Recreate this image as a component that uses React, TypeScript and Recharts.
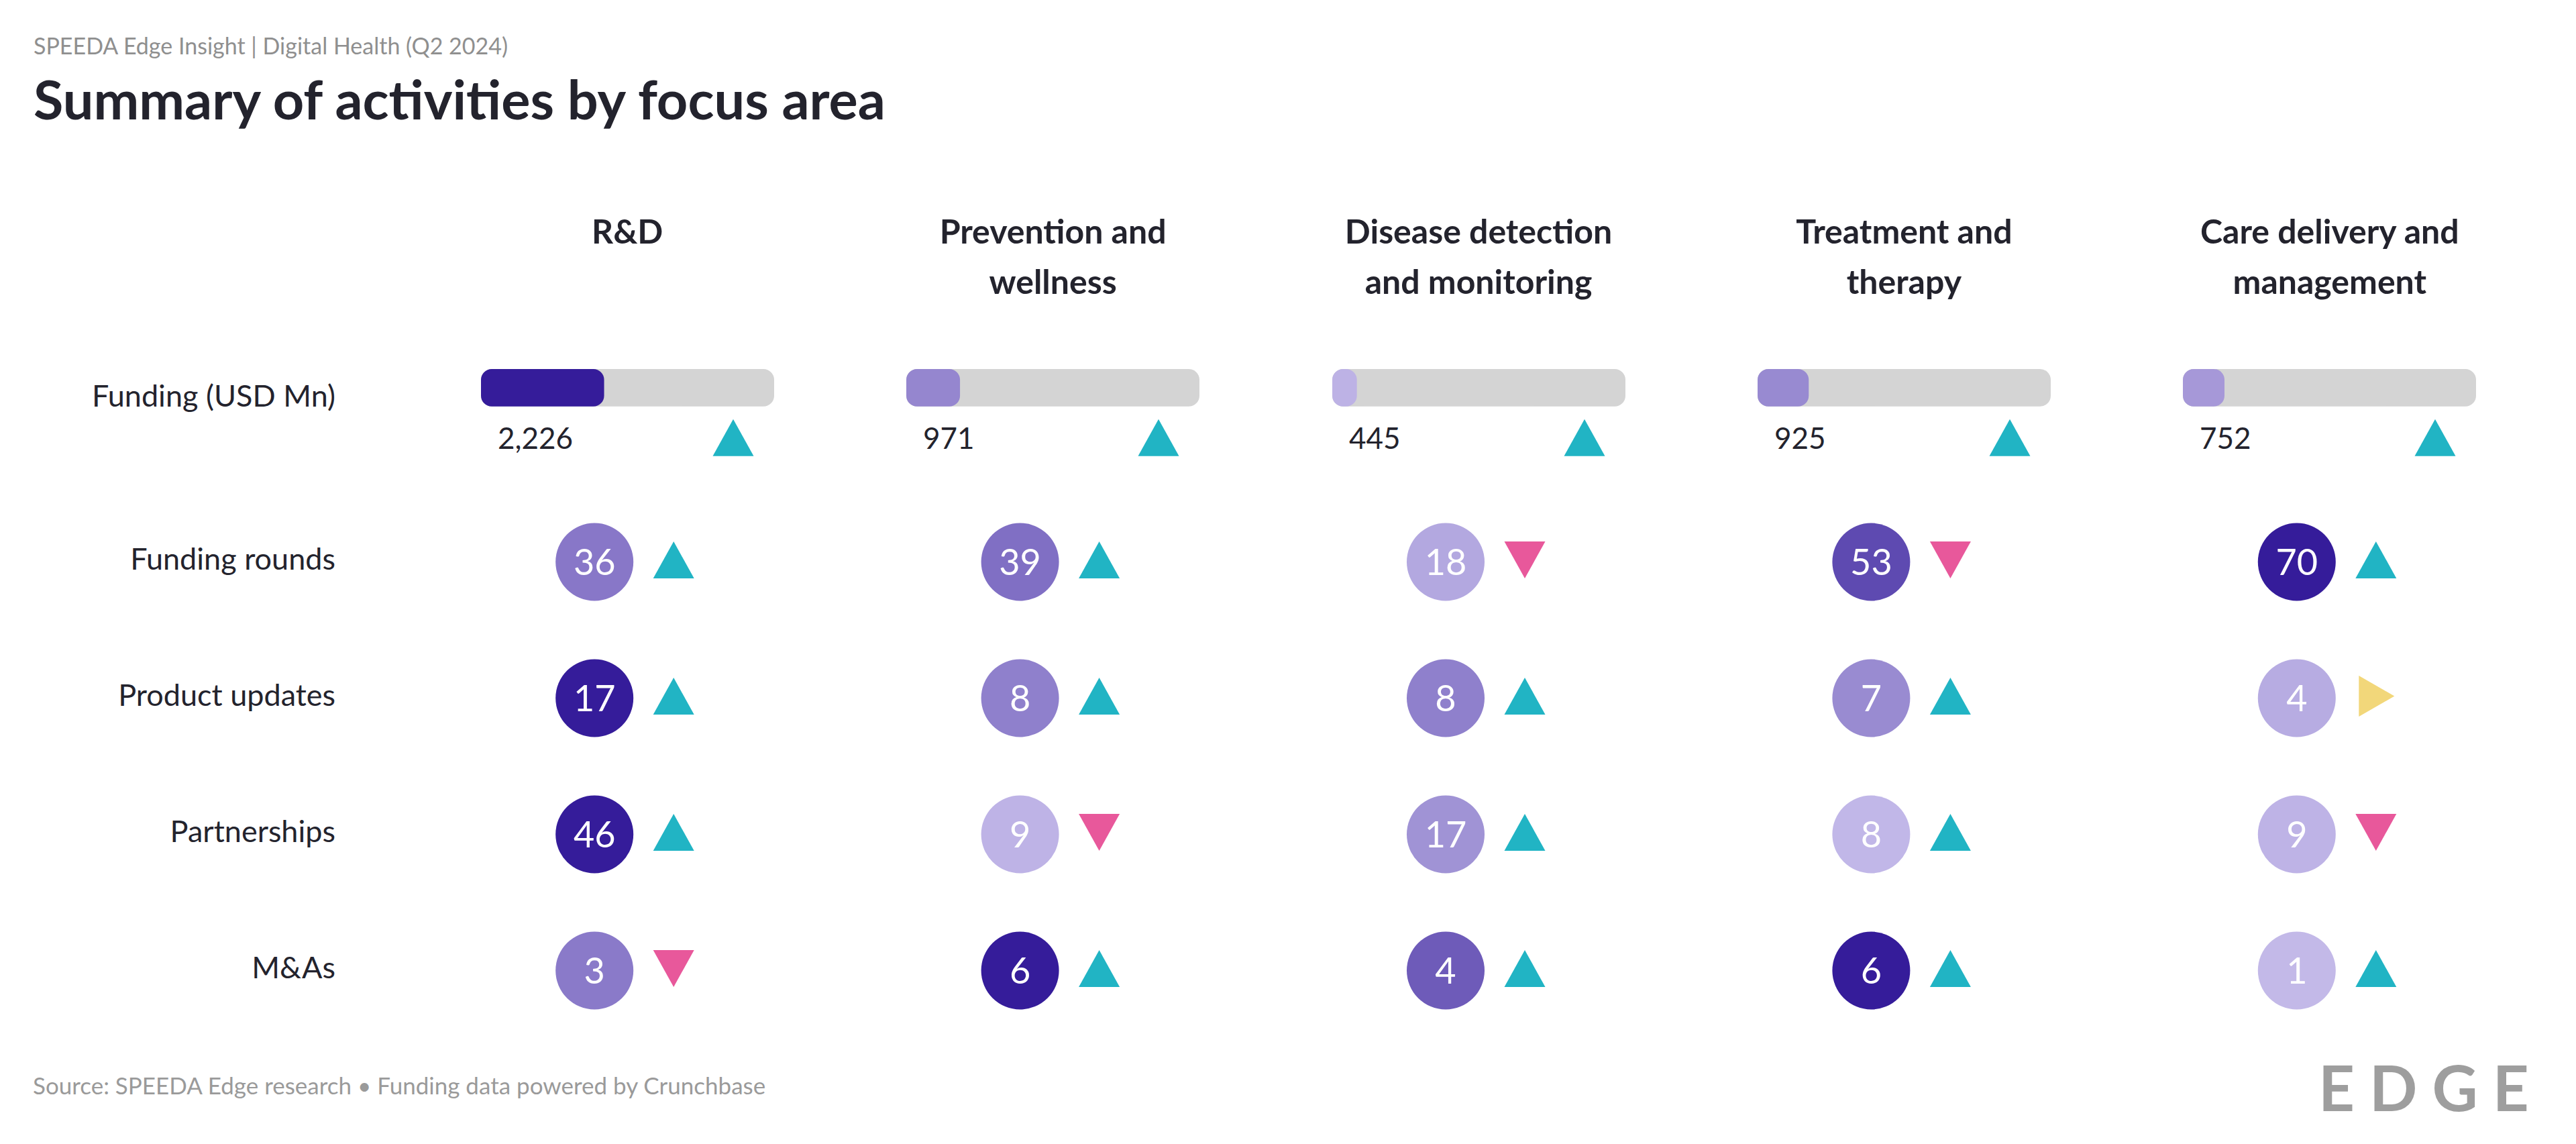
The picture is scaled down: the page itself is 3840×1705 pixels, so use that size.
import React from 'react';
import { ScatterChart, Scatter, XAxis, YAxis, BarChart, Bar, LabelList } from 'recharts';

// ---------- data ----------
const FOCUS_AREAS = ['R&D', 'Prevention and wellness', 'Disease detection and monitoring', 'Treatment and therapy', 'Care delivery and management'];
const HEADER_LINES = [['R&D'], ['Prevention and', 'wellness'], ['Disease detection', 'and monitoring'], ['Treatment and', 'therapy'], ['Care delivery and', 'management']];
const ROW_LABELS = ['Funding rounds', 'Product updates', 'Partnerships', 'M&As'];
const FUNDING_LABEL = 'Funding (USD Mn)';

const FUNDING_USD_MN = [2226, 971, 445, 925, 752];
const FUNDING_TREND = ['up', 'up', 'up', 'up', 'up'];
const FUNDING_AXIS_MAX = 5300;

const FUNDING_ROUNDS = [36, 39, 18, 53, 70];
const FUNDING_ROUNDS_TREND = ['up', 'up', 'down', 'down', 'up'];
const PRODUCT_UPDATES = [17, 8, 8, 7, 4];
const PRODUCT_UPDATES_TREND = ['up', 'up', 'up', 'up', 'flat'];
const PARTNERSHIPS = [46, 9, 17, 8, 9];
const PARTNERSHIPS_TREND = ['up', 'down', 'up', 'up', 'down'];
const MAS = [3, 6, 4, 6, 1];
const MAS_TREND = ['down', 'up', 'up', 'up', 'up'];

const SUBTITLE = 'SPEEDA Edge Insight | Digital Health (Q2 2024)';
const TITLE = 'Summary of activities by focus area';
const SOURCE = 'Source: SPEEDA Edge research \u2022 Funding data powered by Crunchbase';
const LOGO = 'EDGE';

// ---------- styling ----------
const FONT = 'Lato, "Open Sans", sans-serif';
const INK = '#23232d';
const TEAL = '#21b4c4';
const PINK = '#e8589b';
const YELLOW = '#f2d77a';
const LIGHT = [223, 216, 248];
const DARK = [53, 28, 154];

const W = 3840;
const H = 1705;
const PLOT_LEFT = 618;
const PLOT_W = 3172;
const PLOT_TOP = 736;
const PLOT_BOTTOM = 1548;
const HEADER_AXIS_H = 400;
const BAR_W = 437;
const BAR_TOP = 547;

function shade(v: number, max: number) {
  const t = Math.max(0, Math.min(1, v / max));
  const c = LIGHT.map((l, i) => Math.round(l + (DARK[i] - l) * t));
  return `rgb(${c[0]},${c[1]},${c[2]})`;
}

const ROW_VALUES = [FUNDING_ROUNDS, PRODUCT_UPDATES, PARTNERSHIPS, MAS];
const ROW_TRENDS = [FUNDING_ROUNDS_TREND, PRODUCT_UPDATES_TREND, PARTNERSHIPS_TREND, MAS_TREND];

const points = ROW_VALUES.flatMap((vals, r) =>
  vals.map((v, c) => ({
    col: c,
    row: r,
    value: v,
    trend: ROW_TRENDS[r][c],
    rowMax: Math.max(...vals),
  }))
);

const fundingMax = Math.max(...FUNDING_USD_MN);

function Trend({ x, y, dir }: { x: number; y: number; dir: string }) {
  if (dir === 'up') {
    return <polygon points={`${x - 30.5},${y + 27.5} ${x},${y - 27.5} ${x + 30.5},${y + 27.5}`} fill={TEAL} />;
  }
  if (dir === 'down') {
    return <polygon points={`${x - 30.5},${y - 27.5} ${x + 30.5},${y - 27.5} ${x},${y + 27.5}`} fill={PINK} />;
  }
  return <polygon points={`${x - 25.5},${y - 30.5} ${x + 27.5},${y} ${x - 25.5},${y + 30.5}`} fill={YELLOW} />;
}

function Marker(props: any) {
  const { cx, cy, payload } = props;
  if (cx == null || cy == null) return null;
  const ccx = cx - 49;
  return (
    <g>
      <circle cx={ccx} cy={cy} r={58} fill={shade(payload.value, payload.rowMax)} />
      <text x={ccx} y={cy + 19} textAnchor="middle" fontSize={54} fontFamily={FONT} fill="#ffffff">
        {payload.value}
      </text>
      <Trend x={cx + 69} y={cy - 3} dir={payload.trend} />
    </g>
  );
}

function HeaderTick(props: any) {
  const { x, payload } = props;
  const lines = HEADER_LINES[payload.value] || [];
  return (
    <text textAnchor="middle" fontSize={50} fontWeight={700} fontFamily={FONT} fill={INK}>
      {lines.map((l, i) => (
        <tspan key={i} x={x} y={PLOT_TOP - 373 + i * 75}>
          {l}
        </tspan>
      ))}
    </text>
  );
}

function RowTick(props: any) {
  const { x, y, payload } = props;
  return (
    <text x={x} y={y + 11} textAnchor="end" fontSize={45} fontFamily={FONT} fill={INK}>
      {ROW_LABELS[payload.value]}
    </text>
  );
}

function FundingCell({ index }: { index: number }) {
  const data = [{ area: FOCUS_AREAS[index], value: FUNDING_USD_MN[index], trend: FUNDING_TREND[index] }];
  const renderLabel = (p: any) => {
    const { x, y, height, value } = p;
    const bottom = y + height;
    return (
      <g>
        <text x={x + 25} y={bottom + 63} fontSize={44} fontFamily={FONT} fill={INK}>
          {Number(value).toLocaleString('en-US')}
        </text>
        <Trend x={BAR_W - 61} y={bottom + 46.5} dir={data[0].trend} />
      </g>
    );
  };
  const colCenter = PLOT_LEFT + (index + 0.5) * (PLOT_W / FOCUS_AREAS.length);
  return (
    <div style={{ position: 'absolute', left: colCenter - BAR_W / 2, top: BAR_TOP, width: BAR_W, height: 140 }}>
      <BarChart layout="vertical" width={BAR_W} height={140} data={data} margin={{ top: 0, right: 0, bottom: 78, left: 0 }}>
        <XAxis type="number" domain={[0, FUNDING_AXIS_MAX]} hide allowDataOverflow />
        <YAxis type="category" dataKey="area" hide />
        <Bar
          dataKey="value"
          barSize={62}
          radius={16}
          fill={shade(FUNDING_USD_MN[index], fundingMax)}
          background={{ fill: '#d4d4d4', radius: 16 }}
          isAnimationActive={false}
        >
          <LabelList dataKey="value" content={renderLabel} />
        </Bar>
      </BarChart>
    </div>
  );
}

export default function App() {
  return (
    <div style={{ position: 'absolute', left: 0, top: 0, width: W, height: H, background: '#ffffff', overflow: 'hidden' }}>
      <div style={{ position: 'absolute', left: 0, top: 0 }}>
        <ScatterChart
          width={W}
          height={H}
          margin={{ top: PLOT_TOP - HEADER_AXIS_H, right: W - PLOT_LEFT - PLOT_W, bottom: H - PLOT_BOTTOM, left: 0 }}
        >
          <XAxis
            type="number"
            dataKey="col"
            domain={[-0.5, FOCUS_AREAS.length - 0.5]}
            ticks={FOCUS_AREAS.map((_, i) => i)}
            interval={0}
            orientation="top"
            height={HEADER_AXIS_H}
            axisLine={false}
            tickLine={false}
            tickSize={0}
            tickMargin={0}
            tick={(p: any) => <HeaderTick {...p} />}
          />
          <YAxis
            type="number"
            dataKey="row"
            domain={[-0.5, ROW_LABELS.length - 0.5]}
            ticks={ROW_LABELS.map((_, i) => i)}
            interval={0}
            reversed
            width={PLOT_LEFT}
            axisLine={false}
            tickLine={false}
            tickSize={0}
            tickMargin={118}
            tick={(p: any) => <RowTick {...p} />}
          />
          <Scatter data={points} shape={(p: any) => <Marker {...p} />} isAnimationActive={false} />
        </ScatterChart>
      </div>
      <svg width={W} height={H} style={{ position: 'absolute', left: 0, top: 0, pointerEvents: 'none' }}>
        <text x={50} y={81} fontSize={34} fontFamily={FONT} fill="#8f8f8f">{SUBTITLE}</text>
        <text x={50} y={178} fontSize={81} fontWeight={700} fontFamily={FONT} fill={INK}>{TITLE}</text>
        <text x={500} y={606} textAnchor="end" fontSize={45} fontFamily={FONT} fill={INK}>{FUNDING_LABEL}</text>
        <text x={49} y={1631} fontSize={35} fontFamily={FONT} fill="#9a9a9a">{SOURCE}</text>
        <text x={3456} y={1656} fontSize={94} fontWeight={700} letterSpacing={22} fontFamily={FONT} fill="#9e9e9e">{LOGO}</text>
      </svg>
      {FOCUS_AREAS.map((_, i) => (
        <FundingCell key={i} index={i} />
      ))}
    </div>
  );
}
